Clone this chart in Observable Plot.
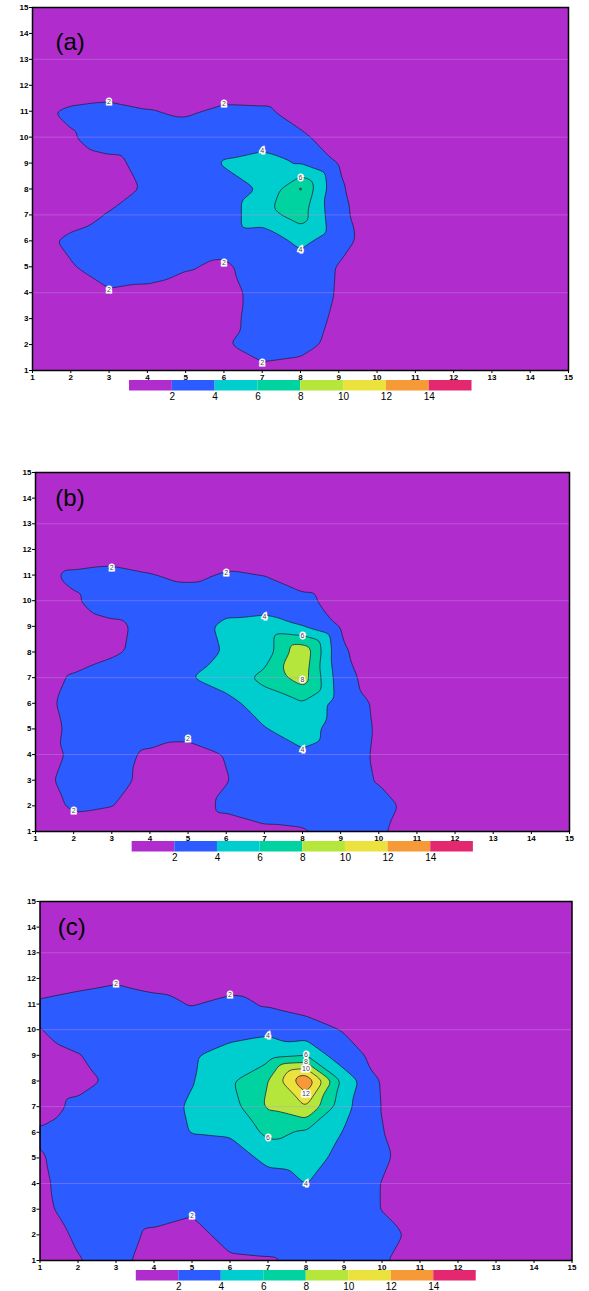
<!DOCTYPE html>
<html><head><meta charset="utf-8">
<script src="https://cdn.jsdelivr.net/npm/d3@7"></script>
<script src="https://cdn.jsdelivr.net/npm/@observablehq/plot@0.6"></script>
<style>
body{margin:0;background:#fff;}
#root{position:relative;width:589px;height:1291px;overflow:hidden;background:#fff;font-family:"Liberation Sans",Arial,sans-serif;}
#root > div{position:absolute;left:0;}
#root svg{overflow:visible;}
</style></head><body><div id="root"></div>
<script>
// ---------- data ----------
const axisTicks = [1,2,3,4,5,6,7,8,9,10,11,12,13,14,15];
const levels = [2,4,6,8,10,12,14];
const colors = ["#b02ccc","#2c5bff","#00cdcd","#00d2a0","#b4e63c","#ece23e","#f59a36","#e3286f"];
const gridLines = [4,7,10,13];

// rows: y = 15 (top) down to y = 1 ; columns: x = 1 .. 15
const gridA = [
 [1,1,1,1,1,1,1,1,1,1,1,1,1,1,1],
 [1,1,1,1,1,1,1,1,1,1,1,1,1,1,1],
 [1,1,1,1,1,1,1,1,1,1,1,1,1,1,1],
 [1,0.8,0.9,0.8,1,0.8,0.8,1,1,1,1,1,1,1,1],
 [1.6,2.3,2.6,2.1,1.7,2.4,2.3,1.3,1,1,1,1,1,1,1],
 [1.2,1.85,3,3,3,3,3,2.3,1.2,1,1,1,1,1,1],
 [1,1,1.5,2.6,3,4.2,4.8,3.9,1.85,1,1,1,1,1,1],
 [1,1,1.3,2.2,3,3,4.2,8.0,2.2,1,1,1,1,1,1],
 [1,1.2,2.1,3,3,3,5.2,6.9,2.4,1,1,1,1,1,1],
 [1.3,2.4,3,3,3,3,2.6,4.6,2.7,1,1,1,1,1,1],
 [1,1.85,3,3,2.2,1.6,3,2.9,1.9,1,1,1,1,1,1],
 [1,1,1.8,1.5,1,1,3,3,1.85,1,1,1,1,1,1],
 [1,1,1,1,1,1.2,3,3,1.6,1,1,1,1,1,1],
 [1,1,1,1,1,1.8,3,2.7,1.3,1,1,1,1,1,1],
 [1,1,1,1,1,1,1.5,1.2,1,1,1,1,1,1,1]
];
const gridB = [
 [1,1,1,1,1,1,1,1,1,1,1,1,1,1,1],
 [1,1,1,1,1,1,1,1,1,1,1,1,1,1,1],
 [1,1,1,1,1,1,1,1,1,1,1,1,1,1,1],
 [1,0.8,0.9,0.8,1,0.8,1,1,1,1,1,1,1,1,1],
 [1.5,2.3,2.6,2.1,1.6,2.2,1.97,1,1,1,1,1,1,1,1],
 [1.2,1.8,3,3,3,3,3,2.5,1.2,1,1,1,1,1,1],
 [1,1,1.6,2.5,3,4.5,4.8,3.95,1.8,1,1,1,1,1,1],
 [1,1,1.7,2.6,3,4.2,4.8,9.6,2.3,1,1,1,1,1,1],
 [1.2,2.2,3,3,3.9,4.9,6.6,9.0,2.8,1,1,1,1,1,1],
 [1.4,2.5,3,3,3,3.4,4.9,5.8,3,1.7,1,1,1,1,1],
 [1.3,2.3,3,3,3,3,3.9,4.9,3,1.8,1,1,1,1,1],
 [0.8,2.4,2.6,1.7,1,2.1,3,3.7,3,1.7,1,1,1,1,1],
 [1.2,2.8,2.6,1.5,1,1.9,3,3,3,1.85,1,1,1,1,1],
 [1,2.3,2.05,1,1,2.4,3,3,3,2.8,1.2,1,1,1,1],
 [1,1,1,1,1,1,1.6,1.8,2.5,2.3,1,1,1,1,1]
];
const gridC = [
 [1,1,1,1,1,1,1,1,1,1,1,1,1,1,1],
 [1,1,1,1,1,1,1,1,1,1,1,1,1,1,1],
 [1,1,1,1,1,1,1,1,1,1,1,1,1,1,1],
 [1,1.4,1.7,1.2,1,1,1,1,1,1,1,1,1,1,1],
 [2.25,2.6,3,2.6,1.9,2.5,1.8,1.3,1,1,1,1,1,1,1],
 [1.95,3,3,3,3,3.1,3.6,2.8,1.9,1,1,1,1,1,1],
 [1.2,1.9,3,3,3.8,4.9,5.2,5.8,2.6,1.5,1,1,1,1,1],
 [1.2,1.4,2.4,3,3.9,5.7,8.0,13.9,5.3,1.8,1,1,1,1,1],
 [1.2,2.4,3,3,4.3,5.1,8.3,10.0,4.6,1.9,1,1,1,1,1],
 [2.2,3,3,3,4.1,4.3,6.5,5.69,3.9,2.05,1,1,1,1,1],
 [1.8,3,3,3,3,2.8,4.6,4.8,3.4,2.3,1,1,1,1,1],
 [1.6,3,3,3,3,3,3,4.05,3,1.95,1,1,1,1,1],
 [1.4,3,3,3,2.4,3,3,3,3,1.95,1,1,1,1,1],
 [1,2.3,2.8,1.6,1,3,3,3,3,2.6,1.5,1,1,1,1],
 [1,1.9,2.5,1.3,1,1.6,1.8,2.3,2.6,2.2,1,1,1,1,1]
];

const labelsA = [
 {x:3,y:11.35,t:"2"},{x:6,y:11.3,t:"2"},{x:3,y:4.1,t:"2"},{x:6,y:5.15,t:"2"},{x:7,y:1.3,t:"2"},
 {x:7,y:9.47,t:"4"},{x:8,y:5.64,t:"4"},{x:8,y:8.45,t:"6"}
];
const labelsB = [
 {x:3,y:11.3,t:"2"},{x:6,y:11.1,t:"2"},{x:5,y:4.6,t:"2"},{x:2,y:1.8,t:"2"},
 {x:7,y:9.37,t:"4"},{x:8,y:4.18,t:"4"},{x:8,y:8.64,t:"6"},{x:8,y:6.9,t:"8"}
];
const labelsC = [
 {x:3,y:11.8,t:"2"},{x:6,y:11.35,t:"2"},{x:5,y:2.75,t:"2"},
 {x:7,y:9.78,t:"4"},{x:8,y:4.0,t:"4"},{x:8,y:9.02,t:"6"},{x:7,y:5.8,t:"6"},
 {x:8,y:8.74,t:"8"},{x:8,y:8.46,t:"10"},{x:8,y:7.5,t:"12"}
];
const maxPointA = [{x:8,y:8}];
const panelNames = [{x:1.6,y:13.67,t:"(a)"},{x:1.52,y:14.0,t:"(b)"},{x:1.47,y:14.0,t:"(c)"}];

// ---------- drawing ----------
const FONT = '"Liberation Sans", Arial, Helvetica, sans-serif';
const root = document.getElementById("root");

function fieldPoints(grid){
  const pts = [];
  grid.forEach((row, r) => row.forEach((v, c) => pts.push({x: axisTicks[c], y: axisTicks[14 - r], v})));
  return pts;
}

function place(node, top){
  const div = document.createElement("div");
  div.style.top = top + "px";
  div.appendChild(node);
  root.appendChild(div);
}

function panel(cfg){
  const mt = 10, mb = 24;
  const h = cfg.bottom - cfg.top;
  const svg = Plot.plot({
    width: 589, height: h + mt + mb,
    marginTop: mt, marginBottom: mb, marginLeft: cfg.left, marginRight: 589 - cfg.right,
    style: {fontFamily: FONT, fontSize: "8px", fontWeight: "bold", background: "none", color: "black", overflow: "visible"},
    x: {domain: [1, 15], ticks: axisTicks, tickSize: 3, tickPadding: 1, label: null},
    y: {domain: [1, 15], ticks: axisTicks, tickSize: 3, tickPadding: 1, label: null},
    color: {type: "threshold", domain: levels, range: colors},
    marks: [
      Plot.frame({fill: colors[0]}),
      Plot.contour(fieldPoints(cfg.grid), {
        x: "x", y: "y", fill: "v", thresholds: levels,
        interpolate: "barycentric", blur: 1,
        stroke: "#1e1634", strokeWidth: 0.8, strokeOpacity: 0.9
      }),
      Plot.ruleY(gridLines, {stroke: "#c890ea", strokeOpacity: 0.4, strokeWidth: 1}),
      Plot.dot(cfg.dots, {x: "x", y: "y", r: 1.6, fill: "#2a6a44", stroke: null}),
      Plot.text(cfg.labels, {
        x: "x", y: "y", text: "t", fontSize: 7, fontWeight: "normal",
        fill: "#444", stroke: "white", strokeWidth: 3, strokeLinejoin: "miter"
      }),
      Plot.text([cfg.name], {x: "x", y: "y", text: "t", textAnchor: "start", fontSize: 24, fontWeight: "normal", fill: "black"}),
      Plot.frame({stroke: "black", strokeWidth: 1.5})
    ]
  });
  place(svg, cfg.top - mt);

  // colour bar below the panel
  const W = cfg.right - cfg.left;
  const L = cfg.left + 0.181 * W, R = cfg.left + 0.82 * W;
  const barH = 10.5, below = 22;
  const bar = Plot.plot({
    width: 589, height: barH + below,
    marginTop: 0, marginBottom: below, marginLeft: L, marginRight: 589 - R,
    style: {fontFamily: FONT, fontSize: "10px", background: "none", color: "black", overflow: "visible"},
    x: {domain: [0, colors.length], ticks: levels.map((d, i) => i + 1), tickFormat: i => String(levels[i - 1]), tickSize: 0, tickPadding: 1.5, label: null},
    y: {domain: [0, 1], axis: null},
    color: {type: "identity"},
    marks: [
      Plot.rect(colors, {x1: (d, i) => i, x2: (d, i) => i + 1, y1: 0, y2: 1, fill: d => d})
    ]
  });
  place(bar, cfg.bottom + 9.5);
}

panel({left: 32, right: 568, top: 7, bottom: 370, grid: gridA, labels: labelsA, dots: maxPointA, name: panelNames[0]});
panel({left: 35, right: 569, top: 472, bottom: 831, grid: gridB, labels: labelsB, dots: [], name: panelNames[1]});
panel({left: 39.5, right: 571.5, top: 901, bottom: 1260, grid: gridC, labels: labelsC, dots: [], name: panelNames[2]});
</script>
</body></html>
